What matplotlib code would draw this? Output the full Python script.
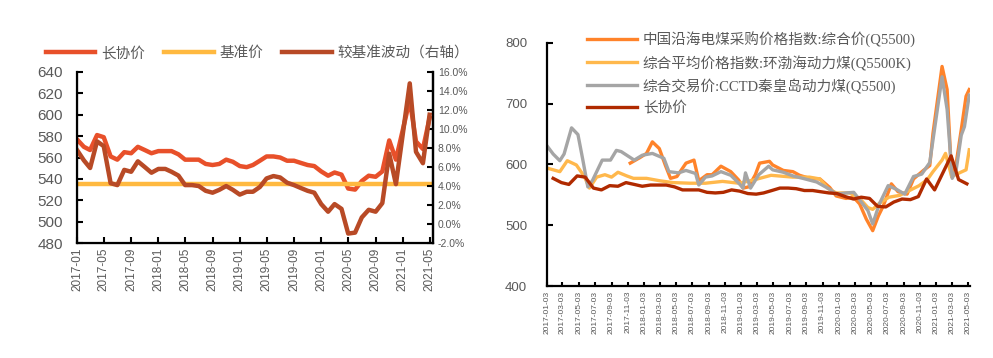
import matplotlib
matplotlib.use("Agg")
import matplotlib.pyplot as plt
import matplotlib.dates as mdates
import matplotlib.ticker as mticker
import pandas as pd

plt.rcParams['font.family'] = ['Liberation Sans', 'Noto Sans CJK SC', 'DejaVu Sans']

# ---- left chart: monthly ----
months = pd.date_range('2017-01-01', periods=53, freq='MS')
lt_price = [577, 570, 567, 581, 579, 561, 558, 565, 564, 570, 567, 564, 566,
            566, 566, 563, 558, 558, 558, 554, 553, 554, 558, 556, 552, 551,
            553, 557, 561, 561, 560, 557, 557, 555, 553, 552, 547, 543, 546,
            544, 531, 530, 538, 543, 542, 547, 576, 558, 586, 614, 575, 568, 597]
base_price = [535] * 53
dev_pct = [7.8, 6.7, 5.9, 8.7, 8.2, 4.3, 4.1, 5.7, 5.5, 6.6, 6.0, 5.4, 5.8,
           5.8, 5.5, 5.1, 4.1, 4.1, 4.0, 3.5, 3.3, 3.6, 4.0, 3.6, 3.1, 3.4,
           3.4, 3.9, 4.8, 5.05, 4.9, 4.35, 4.1, 3.8, 3.5, 3.3, 2.1, 1.3, 2.1,
           1.6, -1.0, -0.9, 0.7, 1.5, 1.3, 2.2, 7.4, 4.2, 9.5, 14.8, 7.6, 6.4, 11.5]

# ---- right chart ----
# 长协价 on the right chart is shown up to 2021-04 only
lt_dates_r = (months + pd.Timedelta(days=26))[:-1]
lt_price_r = lt_price[:-1]

cctd_dates = ['2017-01-03', '2017-01-27', '2017-02-21', '2017-03-09', '2017-04-06',
              '2017-04-30', '2017-05-18', '2017-06-06', '2017-06-24', '2017-07-30',
              '2017-08-30', '2017-09-21', '2017-10-09', '2017-11-27', '2017-12-27',
              '2018-02-03', '2018-03-18', '2018-04-06', '2018-05-12', '2018-06-09',
              '2018-07-15', '2018-07-27', '2018-08-21', '2018-09-15', '2018-10-18',
              '2018-11-24', '2018-12-24', '2019-01-09', '2019-01-18', '2019-02-06',
              '2019-03-09', '2019-04-15', '2019-04-30', '2019-06-09', '2019-07-15',
              '2019-08-21', '2019-10-12', '2019-11-30', '2019-12-24', '2020-01-30',
              '2020-02-28', '2020-03-24', '2020-04-21', '2020-05-09', '2020-06-03',
              '2020-07-06', '2020-08-06', '2020-09-06', '2020-10-09', '2020-11-09',
              '2020-12-09', '2020-12-21', '2021-01-24', '2021-02-12', '2021-03-03',
              '2021-03-18', '2021-04-06', '2021-04-18', '2021-05-06']
cctd = [631, 617, 606, 617, 660, 649, 608, 563, 574, 607, 607, 623, 621, 607, 615,
        618, 610, 588, 586, 590, 585, 566, 579, 581, 588, 582, 569, 561, 586, 561,
        583, 597, 591, 587, 581, 577, 571, 559, 551, 553, 554, 540, 524, 502, 535,
        565, 559, 551, 580, 584, 603, 640, 744, 690, 577, 591, 648, 662, 714]

coastal_dates = ['2017-11-12', '2017-12-18', '2018-01-12', '2018-02-03', '2018-03-01',
                 '2018-03-24', '2018-04-12', '2018-05-06', '2018-06-09', '2018-07-09',
                 '2018-07-27', '2018-08-27', '2018-09-15', '2018-10-18', '2018-11-24',
                 '2018-12-24', '2019-01-09', '2019-01-30', '2019-02-24', '2019-03-12',
                 '2019-04-18', '2019-04-30', '2019-06-09', '2019-07-15', '2019-08-09',
                 '2019-09-15', '2019-10-24', '2019-11-30', '2019-12-24', '2020-01-30',
                 '2020-02-27', '2020-03-21', '2020-04-15', '2020-05-09', '2020-05-30',
                 '2020-06-18', '2020-07-18', '2020-08-12', '2020-09-15', '2020-10-09',
                 '2020-11-15', '2020-12-09', '2020-12-21', '2021-01-24', '2021-02-12',
                 '2021-03-01', '2021-03-18', '2021-04-06', '2021-04-24', '2021-05-06']
coastal = [602, 611, 618, 637, 626, 598, 577, 580, 602, 607, 573, 583, 583, 597, 588,
           574, 561, 563, 583, 602, 605, 599, 590, 588, 582, 577, 576, 562, 548, 544,
           546, 535, 510, 491, 515, 532, 568, 555, 551, 576, 590, 598, 651, 761, 723,
           580, 602, 657, 712, 723]

bohai_dates = ['2017-01-03', '2017-02-21', '2017-03-21', '2017-04-24', '2017-05-24',
               '2017-06-12', '2017-07-09', '2017-08-09', '2017-09-03', '2017-09-27',
               '2017-10-30', '2017-11-24', '2018-01-12', '2018-03-03', '2018-04-21',
               '2018-06-24', '2018-08-21', '2018-10-24', '2018-12-24', '2019-02-15',
               '2019-04-24', '2019-07-15', '2019-09-15', '2019-10-24', '2019-11-24',
               '2019-12-24', '2020-02-12', '2020-03-21', '2020-04-21', '2020-05-09',
               '2020-06-03', '2020-07-09', '2020-08-18', '2020-09-24', '2020-10-30',
               '2020-11-30', '2020-12-21', '2021-01-24', '2021-02-06', '2021-03-01',
               '2021-03-30', '2021-04-24', '2021-05-06']
bohai = [594, 588, 606, 599, 580, 561, 579, 583, 579, 587, 581, 577, 577, 573, 570,
         569, 569, 572, 569, 574, 582, 579, 579, 576, 560, 553, 553, 544, 529, 526,
         536, 546, 549, 557, 565, 575, 588, 607, 618, 580, 586, 591, 624]

C_LT = '#E8502A'
C_BASE = '#FFB940'
C_DEV = '#B84A26'
C_COAST = '#FF832A'
C_BOHAI = '#FFB84C'
C_CCTD = '#A5A5A5'
C_LT2 = '#B02A00'
GRAY_TXT = '#595959'

fig = plt.figure(figsize=(9.93, 3.58), dpi=100)

# ---------- left ----------
ax = fig.add_axes([0.0775, 0.321, 0.3585, 0.478])
l1, = ax.plot(months, lt_price, color=C_LT, lw=3.2, label='长协价')
l2, = ax.plot(months, base_price, color=C_BASE, lw=3.2, label='基准价')
ax.set_ylim(480, 640)
ax.set_yticks(range(480, 641, 20))
ax.set_xlim(months[0], pd.Timestamp('2021-05-16'))
ax.set_xticks(months[::4])
ax.xaxis.set_major_formatter(mdates.DateFormatter('%Y-%m'))
ax.tick_params(axis='x', direction='in', length=4, width=1.5, labelrotation=90,
               labelsize=8.5, labelcolor=GRAY_TXT)
ax.tick_params(axis='y', direction='in', length=4, width=1.5, labelsize=11,
               labelcolor=GRAY_TXT, pad=10)
ax.spines['top'].set_visible(False)
for s in ['left', 'bottom', 'right']:
    ax.spines[s].set_linewidth(1.6)

ax2 = ax.twinx()
l3, = ax2.plot(months, dev_pct, color=C_DEV, lw=3.2, label='较基准波动（右轴）')
ax2.set_ylim(-2, 16)
ax2.set_yticks(range(-2, 17, 2))
ax2.yaxis.set_major_formatter(mticker.FuncFormatter(lambda v, p: '%.1f%%' % v))
ax2.tick_params(axis='y', direction='in', length=4, width=1.5, labelsize=7.5,
                labelcolor=GRAY_TXT)
ax2.spines['top'].set_visible(False)
ax2.spines['right'].set_linewidth(1.6)

fig.legend(handles=[l1, l2, l3], loc='center left', bbox_to_anchor=(0.033, 1 - 53 / 358),
           ncol=3, frameon=False, fontsize=10.5, handlelength=3.4, columnspacing=1.3,
           handletextpad=0.4, labelcolor=GRAY_TXT)

# ---------- right ----------
bx = fig.add_axes([0.5506, 0.2011, 0.4263, 0.6796])
bx.plot(pd.to_datetime(coastal_dates), coastal, color=C_COAST, lw=2.4,
        label='中国沿海电煤采购价格指数:综合价(Q5500)')
bx.plot(pd.to_datetime(bohai_dates), bohai, color=C_BOHAI, lw=2.4,
        label='综合平均价格指数:环渤海动力煤(Q5500K)')
bx.plot(pd.to_datetime(cctd_dates), cctd, color=C_CCTD, lw=2.4,
        label='综合交易价:CCTD秦皇岛动力煤(Q5500)')
bx.plot(lt_dates_r, lt_price_r, color=C_LT2, lw=2.4, label='长协价')
bx.set_ylim(400, 800)
bx.set_yticks([400, 500, 600, 700, 800])
bx.set_xlim(pd.Timestamp('2017-01-03'), pd.Timestamp('2021-05-09'))
rticks = pd.date_range('2017-01-01', '2021-05-01', freq='2MS') + pd.Timedelta(days=2)
bx.set_xticks(rticks)
bx.xaxis.set_major_formatter(mdates.DateFormatter('%Y-%m-%d'))
bx.tick_params(axis='x', direction='in', length=3, width=1.5, labelrotation=90,
               labelsize=6, labelcolor=GRAY_TXT)
bx.tick_params(axis='y', direction='in', length=4, width=1.5, labelsize=9.5,
               labelcolor=GRAY_TXT, pad=14)
for s in ['top', 'right']:
    bx.spines[s].set_visible(False)
for s in ['left', 'bottom']:
    bx.spines[s].set_linewidth(1.6)
bx.legend(loc='upper left', bbox_to_anchor=(0.065, 1.10), frameon=False,
          prop={'family': ['Liberation Serif', 'Noto Sans CJK SC'], 'size': 10.5},
          handlelength=3.4, handletextpad=0.4, labelspacing=0.5, labelcolor=GRAY_TXT)

fig.savefig('out.png', dpi=100)
